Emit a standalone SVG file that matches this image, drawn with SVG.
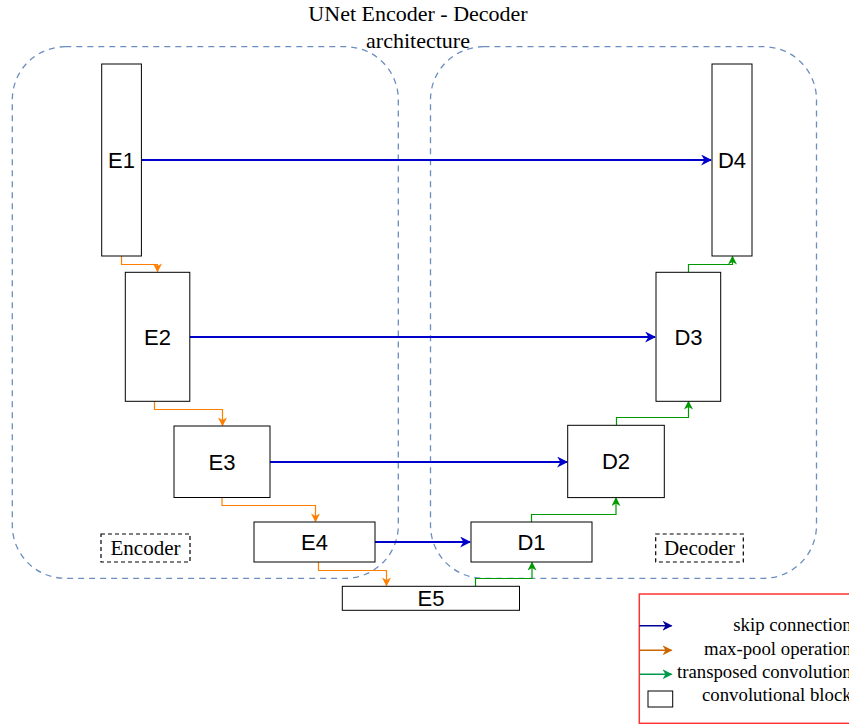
<svg xmlns="http://www.w3.org/2000/svg" width="849" height="724" viewBox="0 0 849 724">
<defs>
<style>
.grp{fill:none;stroke:#6C8EBF;stroke-width:1.3;stroke-dasharray:6 5}
.node rect{fill:#fff;stroke:#000;stroke-width:1}
.node text{font-family:"Liberation Sans",Arial,sans-serif;font-size:22px;fill:#000;text-anchor:middle;dominant-baseline:central}
.skip{fill:none;stroke:#0000CC;stroke-width:2}
.pool{fill:none;stroke:#FF8000;stroke-width:1.2}
.tconv{fill:none;stroke:#009900;stroke-width:1.2}
.serif{font-family:"Liberation Serif","Times New Roman",serif;fill:#000}
.lbl{fill:none;stroke:#000;stroke-width:1.2;stroke-dasharray:4 3}
</style>
<marker id="ab" viewBox="0 0 10 10" refX="9" refY="5" markerWidth="11" markerHeight="11" markerUnits="userSpaceOnUse" orient="auto"><path d="M0,0 L10,5 L0,10 L3,5 Z" fill="#0000CC"/></marker>
<marker id="ao" viewBox="0 0 10 10" refX="9" refY="5" markerWidth="9" markerHeight="9" markerUnits="userSpaceOnUse" orient="auto"><path d="M0,0 L10,5 L0,10 L3,5 Z" fill="#FF8000"/></marker>
<marker id="ag" viewBox="0 0 10 10" refX="9" refY="5" markerWidth="9" markerHeight="9" markerUnits="userSpaceOnUse" orient="auto"><path d="M0,0 L10,5 L0,10 L3,5 Z" fill="#009900"/></marker>
<marker id="lb" viewBox="0 0 10 10" refX="9" refY="5" markerWidth="10" markerHeight="10" markerUnits="userSpaceOnUse" orient="auto"><path d="M0,0 L10,5 L0,10 L3,5 Z" fill="#000099"/></marker>
<marker id="lo" viewBox="0 0 10 10" refX="9" refY="5" markerWidth="10" markerHeight="10" markerUnits="userSpaceOnUse" orient="auto"><path d="M0,0 L10,5 L0,10 L3,5 Z" fill="#CC6600"/></marker>
<marker id="lg" viewBox="0 0 10 10" refX="9" refY="5" markerWidth="10" markerHeight="10" markerUnits="userSpaceOnUse" orient="auto"><path d="M0,0 L10,5 L0,10 L3,5 Z" fill="#00994D"/></marker>
</defs>
<rect width="849" height="724" fill="#fff"/>

<g id="groups">
<rect id="encoder-region" class="grp" x="12.3" y="46.7" width="386" height="531.6" rx="53" ry="53"/>
<rect id="decoder-region" class="grp" x="430.5" y="46.7" width="386" height="531.6" rx="53" ry="53"/>
</g>

<g id="title" class="serif" font-size="22" text-anchor="middle">
<text x="418" y="21">UNet Encoder - Decoder</text>
<text x="418" y="48">architecture</text>
</g>

<g id="connectors">
<path class="skip" d="M141.5,160 H711" marker-end="url(#ab)"/>
<path class="skip" d="M189.5,337 H655" marker-end="url(#ab)"/>
<path class="skip" d="M270,462 H567" marker-end="url(#ab)"/>
<path class="skip" d="M375,542 H470" marker-end="url(#ab)"/>
<path class="pool" d="M121.5,256 V264.5 H157.5 V271.5" marker-end="url(#ao)"/>
<path class="pool" d="M154.5,401.5 V409.5 H222.5 V425.5" marker-end="url(#ao)"/>
<path class="pool" d="M222,497.5 V505.5 H315.5 V521.5" marker-end="url(#ao)"/>
<path class="pool" d="M318.5,562 V570.5 H386.5 V585.5" marker-end="url(#ao)"/>
<path class="tconv" d="M475.5,586 V578.5 H532 V562.5" marker-end="url(#ag)"/>
<path class="tconv" d="M531.5,522 V514.5 H616 V498" marker-end="url(#ag)"/>
<path class="tconv" d="M616.5,425.5 V417.5 H688.5 V401.5" marker-end="url(#ag)"/>
<path class="tconv" d="M688.5,272 V264.5 H732.5 V256.5" marker-end="url(#ag)"/>
</g>

<g id="E1" class="node"><rect x="101.7" y="64" width="39.7" height="192"/><text x="121.5" y="160">E1</text></g>
<g id="E2" class="node"><rect x="125.3" y="272.3" width="64.5" height="129"/><text x="157.5" y="337">E2</text></g>
<g id="E3" class="node"><rect x="174" y="426" width="96" height="71.5"/><text x="222" y="462">E3</text></g>
<g id="E4" class="node"><rect x="254" y="522" width="121" height="40"/><text x="314.5" y="542">E4</text></g>
<g id="E5" class="node"><rect x="342.3" y="586.3" width="177.2" height="24"/><text x="431" y="598.5">E5</text></g>
<g id="D1" class="node"><rect x="471" y="522" width="121" height="40"/><text x="531.5" y="542">D1</text></g>
<g id="D2" class="node"><rect x="567.7" y="425.3" width="96.6" height="72.3"/><text x="616" y="461.5">D2</text></g>
<g id="D3" class="node"><rect x="656" y="272.3" width="64.7" height="129"/><text x="688.5" y="337">D3</text></g>
<g id="D4" class="node"><rect x="712" y="64" width="40" height="192"/><text x="732" y="160">D4</text></g>

<g id="encoder-label"><rect class="lbl" x="101" y="534" width="89" height="28"/><text class="serif" x="145.5" y="555" font-size="21" text-anchor="middle">Encoder</text></g>
<g id="decoder-label"><rect class="lbl" x="655.7" y="534" width="87.6" height="28"/><text class="serif" x="699.5" y="555" font-size="21" text-anchor="middle">Decoder</text></g>

<g id="legend">
<rect x="639.3" y="594" width="220" height="129.3" fill="none" stroke="#FF3333" stroke-width="1.5"/>
<path d="M639.5,625.7 H671.5" stroke="#000099" stroke-width="1.5" fill="none" marker-end="url(#lb)"/>
<path d="M639.5,650.3 H671.5" stroke="#CC6600" stroke-width="1.5" fill="none" marker-end="url(#lo)"/>
<path d="M639.5,674.3 H671.5" stroke="#00994D" stroke-width="1.5" fill="none" marker-end="url(#lg)"/>
<rect x="648" y="691" width="24.7" height="16" fill="#fff" stroke="#000" stroke-width="1"/>
<g class="serif" font-size="18.8" text-anchor="end">
<text x="859" y="631">skip connections</text>
<text x="859" y="655">max-pool operations</text>
<text x="859" y="678">transposed convolutions</text>
<text x="859" y="701">convolutional blocks</text>
</g>
</g>
</svg>
